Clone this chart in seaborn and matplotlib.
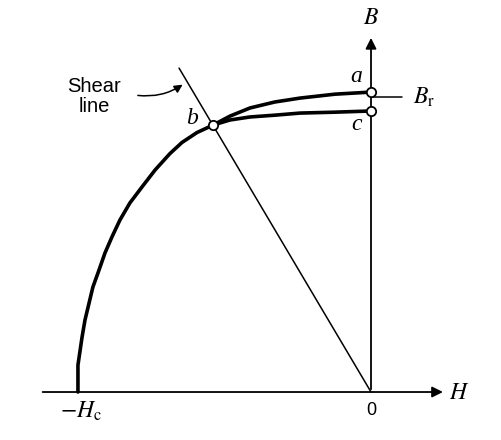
# Import libraries
import seaborn as sns
import matplotlib.pyplot as plt
import pandas as pd

# Demagnetization curve (major loop, second quadrant), H and B normalised
loop_H = [-1.0, -1.0, -0.986, -0.976, -0.962, -0.949, -0.928, -0.908, -0.884, -0.857,
          -0.823, -0.782, -0.737, -0.686, -0.645, -0.594, -0.539, -0.481, -0.413,
          -0.328, -0.242, -0.123, 0.0]
loop_B = [0.0, 0.09, 0.183, 0.24, 0.297, 0.35, 0.407, 0.463, 0.517, 0.573,
          0.63, 0.683, 0.74, 0.795, 0.832, 0.865, 0.89, 0.92, 0.947,
          0.967, 0.98, 0.993, 1.0]

# Recoil line from b back to c
recoil_H = [-0.539, -0.481, -0.413, -0.328, -0.242, -0.123, 0.0]
recoil_B = [0.89, 0.907, 0.917, 0.923, 0.93, 0.933, 0.937]

# Marked points a, b, c
pt_names = ['a', 'b', 'c']
pt_H = [0.0, -0.539, 0.0]
pt_B = [1.0, 0.89, 0.937]

# Shear line end (through origin and b)
shear_H = [0.0, -0.655]
shear_B = [0.0, 1.08]

sns.set_style('white')
plt.rcParams['mathtext.fontset'] = 'stix'
plt.rcParams['text.color'] = 'black'

fig = plt.figure(figsize=(5.02, 4.40), dpi=100)
ax = fig.add_axes([0, 0, 1, 1])
ax.set_xlim(-1.266, 0.447)
ax.set_ylim(-0.16, 1.307)
ax.axis('off')

loop = pd.DataFrame({'H': loop_H, 'B': loop_B})
recoil = pd.DataFrame({'H': recoil_H, 'B': recoil_B})
shear = pd.DataFrame({'H': shear_H, 'B': shear_B})
pts = pd.DataFrame({'H': pt_H, 'B': pt_B, 'name': pt_names})

# axes with arrows
ax.annotate('', xy=(0.255, 0), xytext=(-1.13, 0),
            arrowprops=dict(arrowstyle='-|>', color='black', lw=1.3, mutation_scale=16))
ax.annotate('', xy=(0, 1.19), xytext=(0, 0),
            arrowprops=dict(arrowstyle='-|>', color='black', lw=1.3, mutation_scale=16))

# shear line and Br tick
sns.lineplot(data=shear, x='H', y='B', sort=False, estimator=None, color='black', lw=1.1, ax=ax)
ax.plot([0, 0.106], [0.983, 0.983], color='black', lw=1.1)

# curves (estimator=None so repeated H values are not averaged)
sns.lineplot(data=loop, x='H', y='B', sort=False, estimator=None, color='black', lw=2.6,
             solid_joinstyle='round', ax=ax)
sns.lineplot(data=recoil, x='H', y='B', sort=False, estimator=None, color='black', lw=2.6,
             solid_joinstyle='round', ax=ax)

# open circles
sns.scatterplot(data=pts, x='H', y='B', s=45, color='white', edgecolor='black',
                linewidth=1.3, zorder=5, ax=ax)

# labels
it = dict(fontsize=17, style='italic', family='Liberation Serif', ha='center', va='center',
          color='black')
ax.text(-0.051, 1.052, 'a', **it)
ax.text(-0.048, 0.893, 'c', **it)
ax.text(-0.611, 0.913, 'b', **it)
ax.text(0.0, 1.25, '$B$', fontsize=17, ha='center', va='center', color='black')
ax.text(0.30, 0.0, '$H$', fontsize=17, ha='center', va='center', color='black')
ax.text(0.18, 0.983, '$B_\\mathrm{r}$', fontsize=17, ha='center', va='center', color='black')
ax.text(-0.99, -0.063, '$-H_\\mathrm{c}$', fontsize=17, ha='center', va='center', color='black')
ax.text(0.0, -0.062, '0', fontsize=13, family='Liberation Sans', ha='center', va='center',
        color='black')

ax.text(-0.945, 0.985, 'Shear\nline', fontsize=14.5, family='Liberation Sans',
        ha='center', va='center', linespacing=1.1, color='black')
ax.annotate('', xy=(-0.635, 1.03), xytext=(-0.805, 0.99),
            arrowprops=dict(arrowstyle='-|>', color='black', lw=1.1,
                            connectionstyle='arc3,rad=0.2', mutation_scale=12))

plt.savefig('out.png', dpi=100)
